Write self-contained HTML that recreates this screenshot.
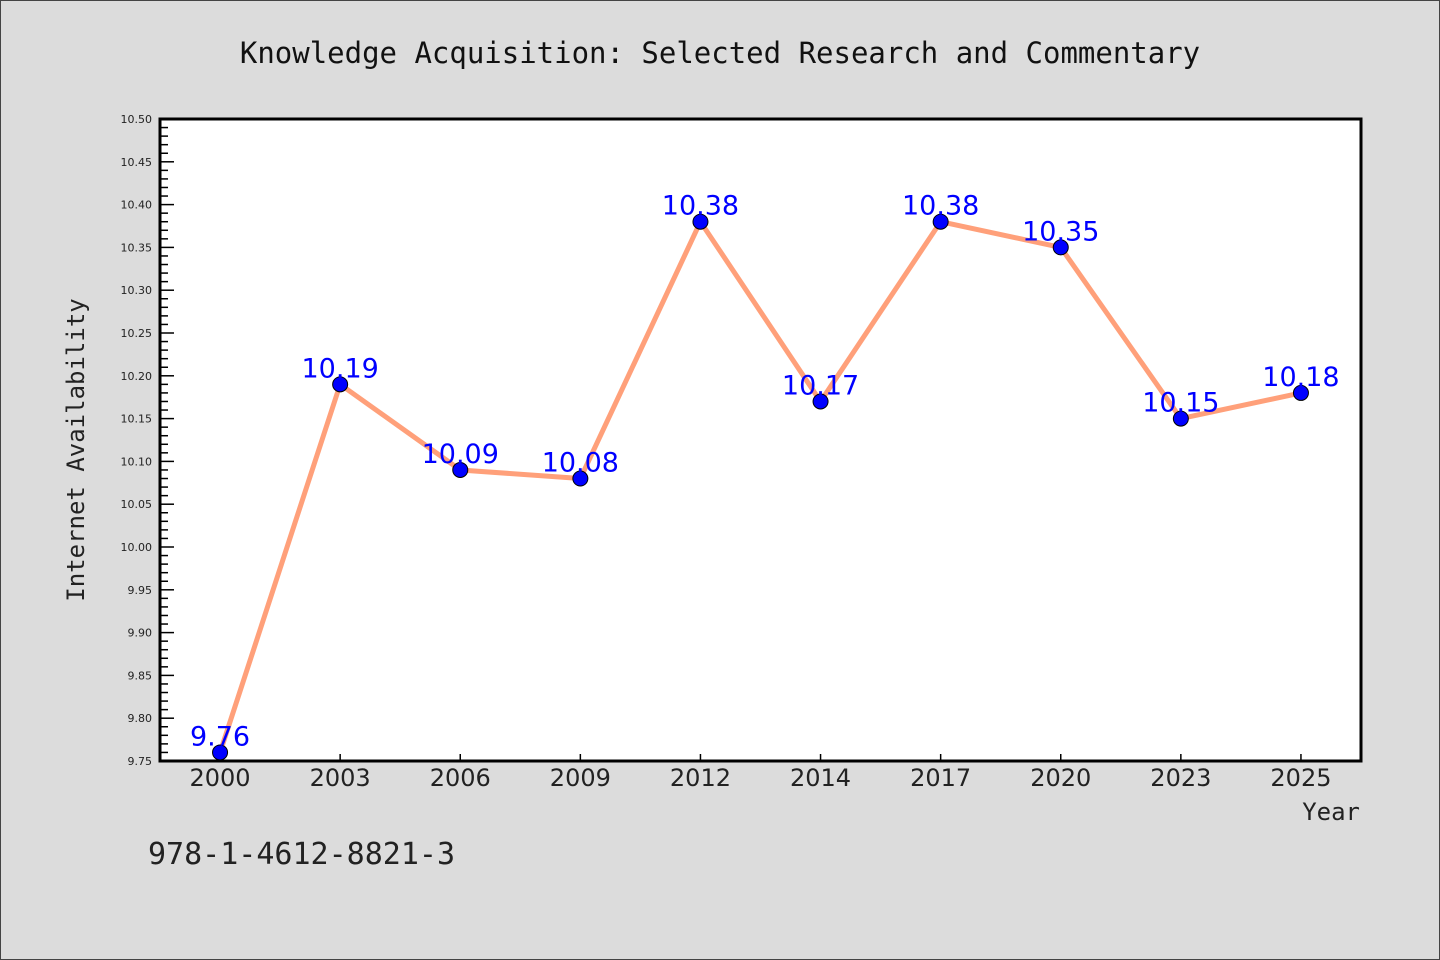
<!DOCTYPE html>
<html><head><meta charset="utf-8"><style>
body{margin:0;background:#dcdcdc;}
svg{display:block;}
</style></head><body>
<svg id="chart" width="1440" height="960" xmlns="http://www.w3.org/2000/svg">
<rect x="0.5" y="0.5" width="1439" height="959" fill="#dcdcdc" stroke="#444" stroke-width="1"/>
<text x="720" y="63" text-anchor="middle" font-family="DejaVu Sans Mono, Liberation Mono, monospace" font-size="29" fill="#111">Knowledge Acquisition: Selected Research and Commentary</text>
<rect x="160" y="119" width="1201" height="642" fill="#fff"/>
<g id="yticks"></g>
<g id="xticks"></g>
<g id="series"></g>
<rect x="160" y="119" width="1201" height="642" fill="none" stroke="#000" stroke-width="3"/>
<text transform="translate(84,450) rotate(-90)" text-anchor="middle" font-family="DejaVu Sans Mono, Liberation Mono, monospace" font-size="24" fill="#222">Internet Availability</text>
<text x="1360" y="820" text-anchor="end" font-family="DejaVu Sans Mono, Liberation Mono, monospace" font-size="24" fill="#222">Year</text>
<text x="148" y="864" font-family="DejaVu Sans Mono, Liberation Mono, monospace" font-size="30" fill="#222">978-1-4612-8821-3</text>
</svg>
<script>
const categories=["2000","2003","2006","2009","2012","2014","2017","2020","2023","2025"];
const values=[9.76,10.19,10.09,10.08,10.38,10.17,10.38,10.35,10.15,10.18];
const yTickLabels=["9.75","9.80","9.85","9.90","9.95","10.00","10.05","10.10","10.15","10.20","10.25","10.30","10.35","10.40","10.45","10.50"];
const NS="http://www.w3.org/2000/svg";
const L=160,R=1361,T=119,B=761,yMin=9.75,yMax=10.5;
const step=(R-L)/categories.length;
function xs(i){return L+step*(i+0.5);}
function ys(v){return B-(v-yMin)/(yMax-yMin)*(B-T);}
function mk(tag,attrs,parent){const e=document.createElementNS(NS,tag);for(const k in attrs)e.setAttribute(k,attrs[k]);parent.appendChild(e);return e;}
const yt=document.getElementById('yticks');
for(let k=0;k<=75;k++){const v=yMin+k*0.01;const y=ys(v);const major=k%5===0;
 const t=mk('line',{x1:L,x2:L+(major?14:8),y1:y,y2:y,stroke:'#000','stroke-width':1.5},yt);
 
 }
yTickLabels.forEach(s=>{const y=ys(parseFloat(s));const t=mk('text',{x:L-8,y:y+4,'text-anchor':'end','font-family':'DejaVu Sans, Liberation Sans, sans-serif','font-size':11,fill:'#222'},yt);t.textContent=s;
 
 });
const xt=document.getElementById('xticks');
categories.forEach((c,i)=>{const x=xs(i);
 const l=mk('line',{x1:x,x2:x,y1:B,y2:B-7,stroke:'#000','stroke-width':1.5},xt);
 
 
 const t=mk('text',{x:x,y:B+25,'text-anchor':'middle','font-family':'DejaVu Sans, Liberation Sans, sans-serif','font-size':24,fill:'#222'},xt);t.textContent=c;
 
 });
const sg=document.getElementById('series');
const pts=values.map((v,i)=>xs(i)+','+ys(v)).join(' ');
const pl=mk('polyline',{points:pts,fill:'none',stroke:'#ffa07a','stroke-width':5,'stroke-linejoin':'round'},sg);


values.forEach((v,i)=>{
 const c=mk('circle',{cx:xs(i),cy:ys(v),r:7.5,fill:'#0000ff',stroke:'#000','stroke-width':1},sg);
 
 
 const t=mk('text',{x:xs(i),y:ys(v)-7,'text-anchor':'middle','font-family':'DejaVu Sans, Liberation Sans, sans-serif','font-size':27,fill:'#0000ff'},sg);t.textContent=v.toFixed(2);
 
 });
</script>
</body></html>
